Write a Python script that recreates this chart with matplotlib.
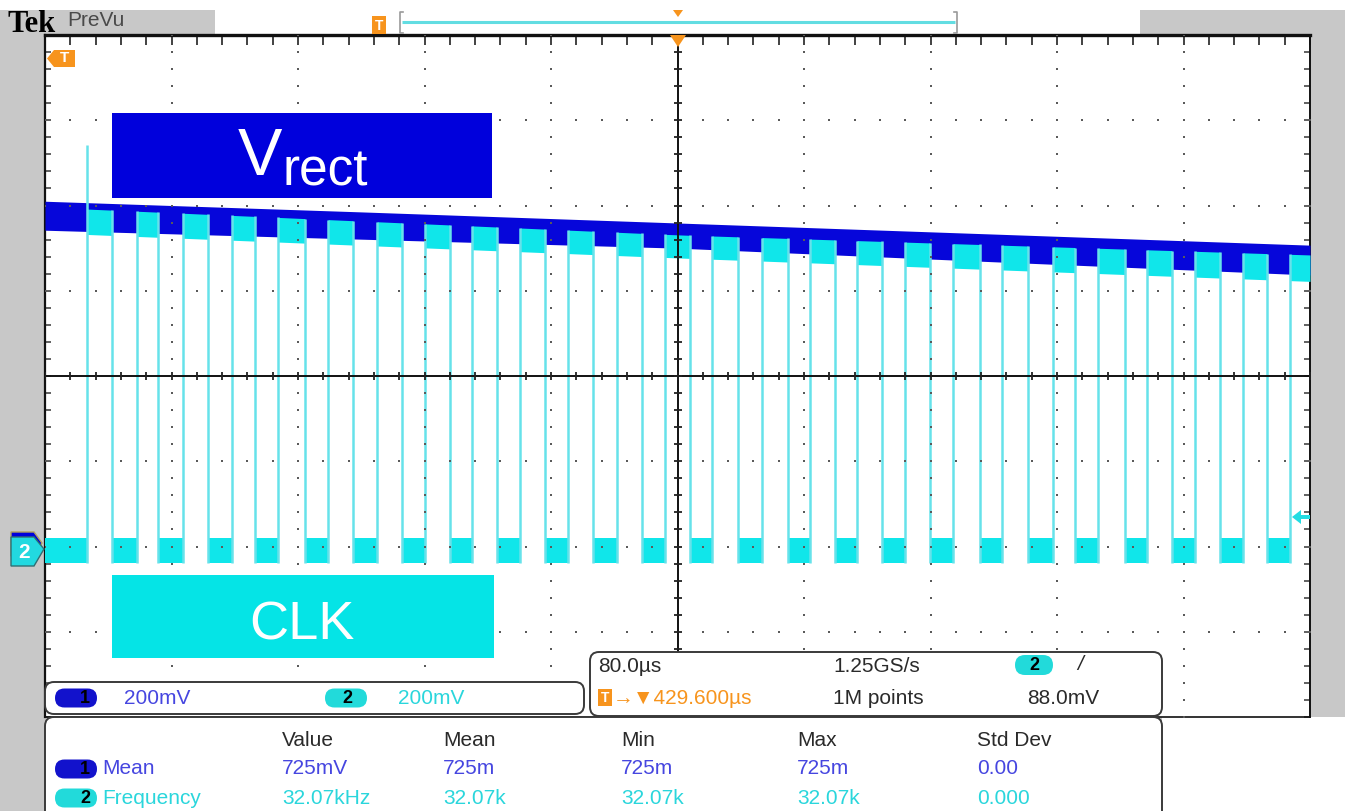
import matplotlib
matplotlib.use("Agg")
import matplotlib.pyplot as plt
import numpy as np
from matplotlib.patches import Rectangle, Polygon, FancyBboxPatch
from matplotlib import font_manager

# ---------------------------------------------------------------- settings
W, H, DPI = 1345, 811, 100

time_per_div_us = 80.0
volts_per_div_mV = 200.0
n_hdiv, n_vdiv = 10, 8
ground_div = -2          # both channel ground markers, divisions from centre

# ---------------------------------------------------------------- CH1: Vrect
vrect_t_us = [-400, -200, 0, 200, 400]
vrect_top_mV = [810, 785, 759, 733, 707]
vrect_bot_mV = [742, 721, 700, 668, 637]

# ---------------------------------------------------------------- CH2: CLK
clk_rise_us = [-373.4, -341.8, -312.7, -281.7, -252.6, -221.0, -190.0, -159.7,
               -130.0, -99.6, -69.2, -38.3, -7.9, 21.8, 53.4, 83.8, 113.5,
               143.9, 174.2, 205.2, 237.5, 265.9, 296.9, 327.3, 357.6, 387.3]
clk_fall_us = [-357.6, -328.5, -296.9, -267.2, -235.6, -205.2, -174.2, -143.9,
               -114.1, -83.8, -53.4, -22.5, 7.9, 38.3, 69.9, 99.6, 129.3,
               159.7, 191.3, 221.7, 251.4, 283.0, 312.7, 343.1, 372.8]
clk_high_t_us = [-400, 0, 400]
clk_high_top_mV = [796, 731, 684]
clk_high_bot_mV = [736, 677, 622]
clk_low_top_mV = 20
clk_low_bot_mV = -38
clk_spike_mV = 942       # overshoot on the first rising edge
trig_level_mV = 88

# ---------------------------------------------------------------- readouts
ch_scale_text = ["200mV", "200mV"]
timebase_text = "80.0\u00b5s"
trig_pos_text = "\u2192\u25bc429.600\u00b5s"
sample_rate_text = "1.25GS/s"
record_len_text = "1M points"
trig_level_text = "88.0mV"
meas_headers = ["Value", "Mean", "Min", "Max", "Std Dev"]
meas_ch1_name = "Mean"
meas_ch1_values = ["725mV", "725m", "725m", "725m", "0.00"]
meas_ch2_name = "Frequency"
meas_ch2_values = ["32.07kHz", "32.07k", "32.07k", "32.07k", "0.000"]

# ---------------------------------------------------------------- style
GRAY = "#c8c8c8"
CH1 = "#0606da"
CH1_BOX = "#0000dc"
CH2 = "#10e6ea"
CH2_BOX = "#05e4e6"
EDGE = "#66e2ea"
ORANGE = "#f7941d"
BLUE_TXT = "#4646e0"
CYAN_TXT = "#2ad6dc"
DARK_TXT = "#2a2a2a"

available = {f.name for f in font_manager.fontManager.ttflist}


def pick(*names):
    for n in names:
        if n in available:
            return n
    return "DejaVu Sans"


SANS = pick("Liberation Sans", "Arial", "DejaVu Sans")
NARROW = pick("Liberation Sans Narrow", "Arial Narrow", SANS)
SERIF = pick("Liberation Serif", "DejaVu Serif")
narrow_ok = NARROW != SANS

fig = plt.figure(figsize=(W / DPI, H / DPI), dpi=DPI)
fig.patch.set_facecolor(GRAY)

# ---------------------------------------------------------------- background panels
bg = fig.add_axes([0, 0, 1, 1], zorder=0)
bg.set_xlim(0, W)
bg.set_ylim(H, 0)
bg.axis("off")
bg.add_patch(Rectangle((0, 0), W, 10, color="white", lw=0))
bg.add_patch(Rectangle((215, 10), 925, 25, color="white", lw=0))
bg.add_patch(Rectangle((1162, 717), W - 1162, H - 717, color="white", lw=0))

# ---------------------------------------------------------------- graticule axes
L, T, R, B = 45, 35, 1310, 717
ax = fig.add_axes([L / W, 1 - B / H, (R - L) / W, (B - T) / H], zorder=1)
t0 = -n_hdiv / 2 * time_per_div_us
t1 = n_hdiv / 2 * time_per_div_us
v0 = (-n_vdiv / 2 - ground_div) * volts_per_div_mV
v1 = (n_vdiv / 2 - ground_div) * volts_per_div_mV
vc = (v0 + v1) / 2
ax.set_xlim(t0, t1)
ax.set_ylim(v0, v1)
ax.set_facecolor("white")

sub_x = np.linspace(t0, t1, n_hdiv * 5 + 1)
sub_y = np.linspace(v0, v1, n_vdiv * 5 + 1)
div_x = np.linspace(t0, t1, n_hdiv + 1)
div_y = np.linspace(v0, v1, n_vdiv + 1)

ax.set_xticks(sub_x)
ax.set_yticks(sub_y)
ax.tick_params(axis="x", direction="in", length=7, width=1.3, color="#333333",
               top=True, bottom=False, labeltop=False, labelbottom=False)
ax.tick_params(axis="y", direction="in", length=4, width=1.3, color="#555555",
               left=True, right=True, labelleft=False, labelright=False)
ax.spines["top"].set_linewidth(2.4)
ax.spines["left"].set_linewidth(1.6)
ax.spines["right"].set_linewidth(1.4)
ax.spines["bottom"].set_linewidth(1.2)
for s in ax.spines.values():
    s.set_color("#111111")

# Vrect noise band
ax.fill_between(vrect_t_us, vrect_bot_mV, vrect_top_mV, color=CH1, lw=0, zorder=3)

# CLK high and low plateaus
highs = list(zip(clk_rise_us, clk_fall_us + [t1]))
lows = list(zip([t0] + clk_fall_us, clk_rise_us))
for a, b in highs:
    xs = [a, b]
    ax.fill_between(xs, np.interp(xs, clk_high_t_us, clk_high_bot_mV),
                    np.interp(xs, clk_high_t_us, clk_high_top_mV),
                    color=CH2, lw=0, zorder=4)
for a, b in lows:
    ax.fill_between([a, b], clk_low_bot_mV, clk_low_top_mV, color=CH2, lw=0, zorder=4)

# CLK edges
edges = np.array(clk_rise_us + clk_fall_us)
edge_tops = np.interp(edges, clk_high_t_us, clk_high_top_mV)
edge_tops[0] = clk_spike_mV
ax.vlines(edges, clk_low_bot_mV, edge_tops, colors=EDGE, lw=1.8, zorder=4.2)

# dotted graticule
for xd in div_x[1:-1]:
    if abs(xd) < 1e-9:
        continue
    ax.scatter(np.full(sub_y.size, xd), sub_y, s=3.2, marker="s", c="#5a5a5a",
               lw=0, zorder=6)
for yd in div_y[1:-1]:
    if abs(yd - vc) < 1e-9:
        continue
    ax.scatter(sub_x, np.full(sub_x.size, yd), s=3.2, marker="s", c="#5a5a5a",
               lw=0, zorder=6)

# centre cross with tick marks
ax.axvline(0, color="#111111", lw=1.4, zorder=6)
ax.axhline(vc, color="#111111", lw=1.4, zorder=6)
ax.plot(np.zeros(sub_y.size), sub_y, ls="none", marker="_", ms=6, mew=1.3,
        color="#222222", zorder=6)
ax.plot(sub_x, np.full(sub_x.size, vc), ls="none", marker="|", ms=6, mew=1.3,
        color="#222222", zorder=6)

# ---------------------------------------------------------------- overlay (pixel space)
ov = fig.add_axes([0, 0, 1, 1], zorder=2)
ov.set_xlim(0, W)
ov.set_ylim(H, 0)
ov.axis("off")

# header
ov.text(7, 24, "Tek", family=SERIF, fontweight="bold", fontsize=22, color="black",
        ha="left", va="center")
ov.text(67, 21, "PreVu", family=SANS, fontsize=15, color="#4a4a4a",
        ha="left", va="center")
ov.add_patch(Rectangle((372, 16), 14, 18, color=ORANGE, lw=0))
ov.text(379, 25.5, "T", family=SANS, fontweight="bold", fontsize=10, color="white",
        ha="center", va="center")
ov.plot([403, 400, 400, 403], [12, 12, 33, 33], color="#9a9a9a", lw=1.2)
ov.plot([954, 957, 957, 954], [12, 12, 33, 33], color="#9a9a9a", lw=1.2)
ov.plot([402, 955], [22, 22], color="#62dde2", lw=2.2, solid_capstyle="butt")
ov.add_patch(Polygon([(673, 10), (683, 10), (678, 17)], closed=True, color=ORANGE, lw=0))
ov.add_patch(Polygon([(670, 35), (686, 35), (678, 47)], closed=True, color=ORANGE, lw=0))

# trigger position tag at the left of the graticule
ov.add_patch(Polygon([(47, 58.5), (54, 50), (75, 50), (75, 67), (54, 67)], closed=True,
                     color=ORANGE, lw=0))
ov.text(64, 58.5, "T", family=SANS, fontweight="bold", fontsize=11, color="white",
        ha="center", va="center")

# channel ground markers
ov.add_patch(Polygon([(11, 532), (34, 532), (42, 543), (34, 556), (11, 556)], closed=True,
                     fc=CH1_BOX, ec="#b0a060", lw=1.0))
ov.add_patch(Polygon([(11, 537), (34, 537), (44, 549), (34, 566), (11, 566)], closed=True,
                     fc="#22d9e0", ec="#2f6f74", lw=1.0))
ov.text(24, 552, "2", family=SANS, fontweight="bold", fontsize=15, color="white",
        ha="center", va="center")

# CH2 trigger level arrow
ov.add_patch(Polygon([(1292, 517), (1301, 510), (1301, 515), (1310, 515), (1310, 519),
                      (1301, 519), (1301, 524)], closed=True, color="#22dce2", lw=0))

# trace labels
ov.add_patch(Rectangle((112, 113), 380, 85, color=CH1_BOX, lw=0))
ov.text(260, 175, "V", family=NARROW, fontsize=50 if narrow_ok else 48, color="white",
        ha="center", va="baseline")
ov.text(283, 186, "rect", family=NARROW, fontsize=44 if narrow_ok else 37, color="white",
        ha="left", va="baseline")
ov.add_patch(Rectangle((112, 575), 382, 83, color=CH2_BOX, lw=0))
ov.text(302, 640, "CLK", family=NARROW, fontsize=43 if narrow_ok else 39, color="white",
        ha="center", va="baseline")


def box(x0, y0, x1, y1):
    ov.add_patch(FancyBboxPatch((x0, y0), x1 - x0, y1 - y0,
                                boxstyle="round,pad=0,rounding_size=9",
                                fc="white", ec="#3a3a3a", lw=1.4, zorder=3))


def badge(xc, yc, num, fc, w=42, h=19, num_dx=9):
    ov.add_patch(FancyBboxPatch((xc - w / 2, yc - h / 2), w, h,
                                boxstyle=f"round,pad=0,rounding_size={h / 2}",
                                fc=fc, ec="none", zorder=4))
    ov.text(xc + num_dx, yc + 0.5, num, family=SANS, fontweight="bold", fontsize=13,
            color="black", ha="center", va="center", zorder=5)


def label(x, y, s, color, size=15):
    ov.text(x, y, s, family=SANS, fontsize=size, color=color, ha="left",
            va="center", zorder=5)


# vertical scale readout
box(45, 682, 584, 714)
badge(76, 698, "1", "#1212cc")
label(124, 698, ch_scale_text[0], BLUE_TXT)
badge(346, 698, "2", "#22dada", num_dx=1)
label(398, 698, ch_scale_text[1], CYAN_TXT)

# horizontal / trigger readout
box(590, 652, 1162, 716)
label(598, 666, timebase_text, DARK_TXT)
ov.add_patch(Rectangle((598, 689), 14, 17, color=ORANGE, lw=0, zorder=4))
ov.text(605, 698, "T", family=SANS, fontweight="bold", fontsize=10, color="white",
        ha="center", va="center", zorder=5)
ov.text(613, 698, trig_pos_text, family=[SANS, "DejaVu Sans"], fontsize=15,
        color=ORANGE, ha="left", va="center", zorder=5)
label(833, 666, sample_rate_text, DARK_TXT)
label(833, 698, record_len_text, DARK_TXT)
badge(1034, 665, "2", "#22dada", w=38, h=20, num_dx=0)
ov.text(1080, 665, "/", family=SANS, fontsize=15, color=DARK_TXT, ha="center",
        va="center", zorder=5, style="italic")
label(1027, 698, trig_level_text, DARK_TXT)

# measurement table
box(45, 717, 1162, 840)
col_x = [282, 443, 621, 797, 977]
for x, s in zip(col_x, meas_headers):
    label(x, 741, s, DARK_TXT)
badge(76, 769, "1", "#1212cc")
label(102, 769, meas_ch1_name, BLUE_TXT)
for x, s in zip(col_x, meas_ch1_values):
    label(x, 769, s, BLUE_TXT)
badge(76, 798, "2", "#22dada")
label(102, 798, meas_ch2_name, CYAN_TXT)
for x, s in zip(col_x, meas_ch2_values):
    label(x, 798, s, CYAN_TXT)

fig.savefig("out.png", dpi=DPI, facecolor=fig.get_facecolor())
